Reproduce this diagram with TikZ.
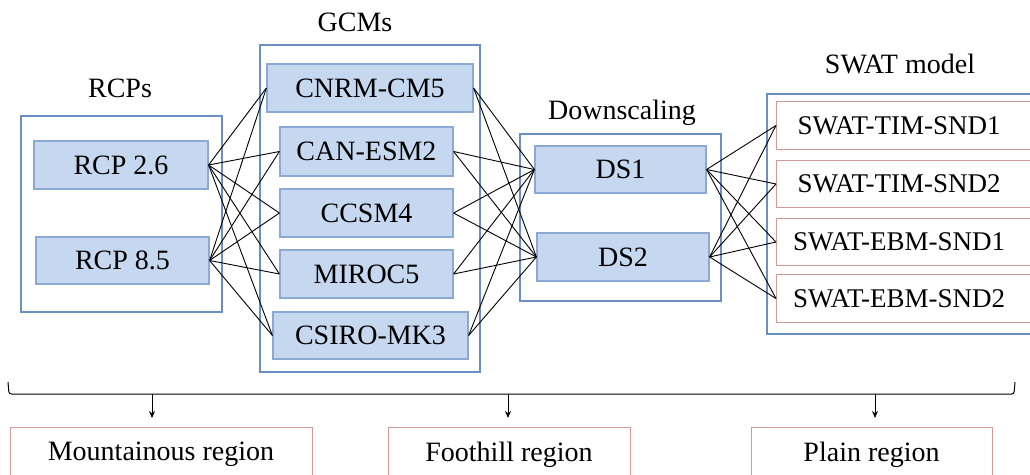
\documentclass[tikz,border=0pt]{standalone}
\usepackage{fontspec}
\setmainfont{Liberation Serif}
\usetikzlibrary{arrows.meta,calc}
\definecolor{fillc}{HTML}{C5D8F0}
\definecolor{innerc}{HTML}{8BA9D3}
\definecolor{outerc}{HTML}{6A8FC4}
\definecolor{redc}{HTML}{D39A98}
\begin{document}
\begin{tikzpicture}[x=1pt,y=-1pt,
  every node/.style={font=\fontsize{28pt}{32pt}\selectfont, inner sep=0pt},
  inbox/.style={draw=innerc, fill=fillc, line width=1.2pt},
  outbox/.style={draw=outerc, line width=1.6pt},
  swatbox/.style={font=\fontsize{27pt}{31pt}\selectfont, minimum width=246pt, minimum height=47pt, anchor=west},
  regbox/.style={draw=redc, line width=1pt, minimum height=55pt},
  conn/.style={draw=black, line width=0.9pt},
  arr/.style={draw=black, line width=1pt, -{Stealth[length=7pt,width=6pt]}}]
\useasboundingbox (0,0) rectangle (1030,474);
\clip (0,0) rectangle (1030,474);
% frames
\node[outbox, minimum width=201pt, minimum height=196pt] (rcpframe) at (121.5,214) {};
\node[outbox, minimum width=220pt, minimum height=327pt] (gcmframe) at (370,208.5) {};
\node[outbox, minimum width=201pt, minimum height=167pt] (dsframe) at (620.5,217.5) {};
\node[outbox, minimum width=290pt, minimum height=240pt, anchor=north west] (swatframe) at (766,93) {};
% titles
\node[anchor=base] (trcp) at (120,97) {RCPs};
\node[anchor=base] (tgcm) at (355,31.5) {GCMs};
\node[anchor=base] (tds) at (622,119) {Downscaling};
\node[anchor=base] (tswat) at (900,73) {SWAT model};
% inner boxes
\node[inbox, minimum width=174pt, minimum height=48pt] (rcp26) at (121,165) {RCP 2.6};
\node[inbox, minimum width=173pt, minimum height=47pt] (rcp85) at (122.5,260.5) {RCP 8.5};
\node[inbox, minimum width=206pt, minimum height=48pt] (cnrm) at (370,88) {CNRM-CM5};
\node[inbox, minimum width=173pt, minimum height=49pt] (can) at (366.5,151.5) {CAN-ESM2};
\node[inbox, minimum width=173pt, minimum height=48pt] (ccsm) at (366.5,213) {CCSM4};
\node[inbox, minimum width=173pt, minimum height=48pt] (miroc) at (366.5,274) {MIROC5};
\node[inbox, minimum width=195pt, minimum height=47pt] (csiro) at (370.5,335.5) {CSIRO-MK3};
\node[inbox, minimum width=171pt, minimum height=47pt] (ds1) at (620.5,169.5) {DS1};
\node[inbox, minimum width=172pt, minimum height=48pt] (ds2) at (623,257) {DS2};
\node[swatbox] (sw1) at (776,125.5) {SWAT-TIM-SND1};
\node[swatbox] (sw2) at (776,184) {SWAT-TIM-SND2};
\node[swatbox] (sw3) at (776,242) {SWAT-EBM-SND1};
\node[swatbox] (sw4) at (776,298.5) {SWAT-EBM-SND2};
\foreach \s in {sw1,sw2,sw3,sw4}
  \draw[draw=redc, line width=1pt] (\s.north west) rectangle ($(\s.south east)+(30,0)$);
% connectors
\foreach \a in {rcp26,rcp85}
  \foreach \b in {cnrm,can,ccsm,miroc,csiro}
    \draw[conn] (\a.east) -- (\b.west);
\foreach \a in {cnrm,can,ccsm,miroc,csiro}
  \foreach \b in {ds1,ds2}
    \draw[conn] (\a.east) -- (\b.west);
\foreach \a in {ds1,ds2}
  \foreach \b in {sw1,sw2,sw3,sw4}
    \draw[conn] (\a.east) -- (\b.west);
% bracket
\coordinate (bl) at (8,382);
\coordinate (br) at (1015,382);
\draw[line width=1pt, rounded corners=2.5pt] (bl) -- (9,394) -- (1014,394) -- (br);
\coordinate (a1) at (152,394); \coordinate (e1) at (152,418);
\coordinate (a2) at (508,394); \coordinate (e2) at (508,418);
\coordinate (a3) at (875,394); \coordinate (e3) at (875,418);
\draw[arr] (a1) -- (e1);
\draw[arr] (a2) -- (e2);
\draw[arr] (a3) -- (e3);
% regions
\node[regbox, minimum width=302pt] (mount) at (161,454.5) {Mountainous region};
\node[regbox, minimum width=242pt] (foot) at (509,454.5) {Foothill region};
\node[regbox, minimum width=241pt] (plain) at (871.5,454.5) {Plain region};
\end{tikzpicture}
\end{document}
